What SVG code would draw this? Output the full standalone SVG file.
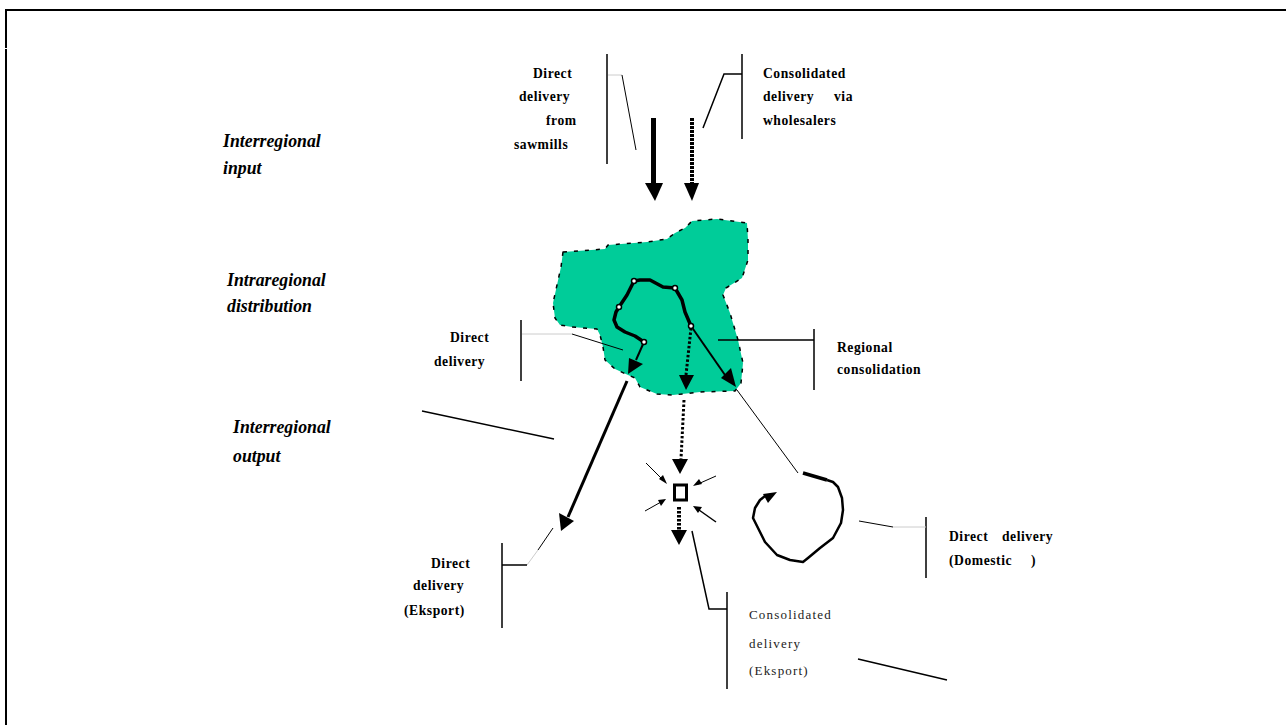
<svg xmlns="http://www.w3.org/2000/svg" width="1286" height="725" viewBox="0 0 1286 725">
<style>
text{font-family:"Liberation Serif","Times New Roman",serif;fill:#000}
.b{font-size:13.6px;font-weight:bold;letter-spacing:.55px}
.r{font-size:13px;letter-spacing:1.2px;fill:#222}
.h{font-size:17.8px;font-weight:bold;font-style:italic}
.l{fill:none;stroke:#000;stroke-width:1.5}
.t{fill:none;stroke:#000;stroke-width:1}
.g{fill:none;stroke:#ccc;stroke-width:1}
.p{fill:none;stroke:#000;stroke-width:3.5;stroke-linejoin:round;stroke-linecap:round}
.d{fill:none;stroke:#000;stroke-width:3;stroke-dasharray:2.5 2}
.a{fill:#000}
</style>
<rect width="1286" height="725" fill="#fff"/>
<g id="frame"><path d="M6 725V49M6 48V10H1286" fill="none" stroke="#000" stroke-width="2"/></g>
<g id="region"><path d="M563 252L561 267L557 285L553 303L555 318L560 325L572 327L597 329L600 335L603 347L605 360L615 369L628 375L635 378L640 387L657 394L673 395L700 392L735 391L741 383L743 363L738 340L730 313L723 295L726 288L742 278L748 260L748 240L747 223L717 219L692 221L685 228L675 233L667 239L647 242L608 245L605 249Z" fill="#00cc99" stroke="#000" stroke-width="1.5" stroke-linejoin="round" stroke-dasharray="4 7"/></g>
<g id="connectors">
<path class="l" d="M607 54V164M742 54V139M521 320V381M814 329V390M502 543V628M926 517V578M727 592V689"/>
<path class="g" d="M608 75H622M522 334H572M527 565L538 550M893 527H926"/>
<path class="t" d="M622 75L636 150M572 334L623 350M538 550L553 528M859 521L893 527M737 390L798 473"/>
<path class="l" d="M742 74H724L703 128M718 340H814M502 565H527M692 531L709 609H727M858 659L947 680M422 411L554 439"/>
<rect class="a" x="651" y="118" width="5" height="65"/>
<path class="a" d="M645 183H663L655 201Z"/>
<path fill="none" stroke="#000" stroke-width="4" stroke-dasharray="3 1" d="M692 118V183"/>
<path class="a" d="M684 183H699L692 201Z"/>
<path class="p" d="M644 342L635 336L625 332L617 327L614 320L616 312L619 307L627 295L634 281L640 280L650 280L663 287L675 288L682 300L685 312L691 326"/>
<path d="M644 342L636 360" fill="none" stroke="#000" stroke-width="2"/>
<path class="a" d="M628 374L629 358L643 364Z"/>
<path class="d" d="M691 328L686 375"/>
<path class="a" d="M679 375H694L686 390Z"/>
<path d="M691 326L725 375" fill="none" stroke="#000" stroke-width="2"/>
<path class="a" d="M736 387L721 378L731 368Z"/>
<path class="d" d="M684 400L681 459"/>
<path class="a" d="M672 459H688L680 474Z"/>
<path d="M679 507V530" fill="none" stroke="#000" stroke-width="4" stroke-dasharray="2.5 1.5"/>
<path class="a" d="M671 530H687L679 545Z"/>
<path d="M627 381L568 517" fill="none" stroke="#000" stroke-width="3"/>
<path class="a" d="M561 531L559 513L574 521Z"/>
<path d="M646 463L664 481" class="t"/><path class="a" d="M667 484L659 479L663 475Z"/>
<path d="M716 476L698 484" class="t"/><path class="a" d="M693 486L699 479L702 484Z"/>
<path d="M645 511L661 502" class="t"/><path class="a" d="M666 499L661 506L658 500Z"/>
<path d="M716 522L699 510" fill="none" stroke="#000" stroke-width="1.5"/><path class="a" d="M693 506L702 507L698 513Z"/>
<path d="M803 473L827 480" fill="none" stroke="#000" stroke-width="3.5"/>
<path fill="none" stroke="#000" stroke-width="2.5" stroke-linejoin="round" d="M827 480L833 482L838 487L842 498L843 510L841 523L833 538L820 548L808 558L803 562L790 560L777 555L765 542L753 518L755 508L760 500L765 496"/>
<path class="a" d="M777 492L763 494L768 503Z"/>
</g>
<g id="node-square"><rect x="674.5" y="485" width="12" height="15" fill="#fff" stroke="#000" stroke-width="3"/></g>
<g id="stops" fill="#fff" stroke="#000" stroke-width="1.5">
<circle cx="634" cy="281" r="2.5"/><circle cx="675" cy="288" r="2.5"/><circle cx="619" cy="307" r="2.5"/><circle cx="644" cy="342" r="2.5"/><circle cx="691" cy="326" r="2.5"/>
</g>
<g id="headings">
<text class="h" x="223" y="147">Interregional</text><text class="h" x="223" y="174">input</text>
<text class="h" x="227" y="286">Intraregional</text><text class="h" x="227" y="312">distribution</text>
<text class="h" x="233" y="433">Interregional</text><text class="h" x="233" y="462">output</text>
</g>
<g id="label-sawmills">
<text class="b" x="533" y="78">Direct</text><text class="b" x="519" y="101">delivery</text><text class="b" x="546" y="125">from</text><text class="b" x="514" y="149">sawmills</text>
</g>
<g id="label-wholesalers">
<text class="b" x="763" y="78">Consolidated</text><text class="b" x="763" y="101">delivery</text><text class="b" x="834" y="101">via</text><text class="b" x="763" y="125">wholesalers</text>
</g>
<g id="label-direct">
<text class="b" x="450" y="342">Direct</text><text class="b" x="434" y="366">delivery</text>
</g>
<g id="label-regional">
<text class="b" x="837" y="352">Regional</text><text class="b" x="837" y="374">consolidation</text>
</g>
<g id="label-export">
<text class="b" x="431" y="568">Direct</text><text class="b" x="413" y="590">delivery</text><text class="b" x="404" y="615">(Eksport)</text>
</g>
<g id="label-domestic">
<text class="b" x="949" y="541">Direct</text><text class="b" x="1002" y="541">delivery</text><text class="b" x="949" y="565">(Domestic</text><text class="b" x="1031" y="565">)</text>
</g>
<g id="label-consolidated-export">
<text class="r" x="749" y="619">Consolidated</text><text class="r" x="749" y="648">delivery</text><text class="r" x="749" y="675">(Eksport)</text>
</g>
</svg>
